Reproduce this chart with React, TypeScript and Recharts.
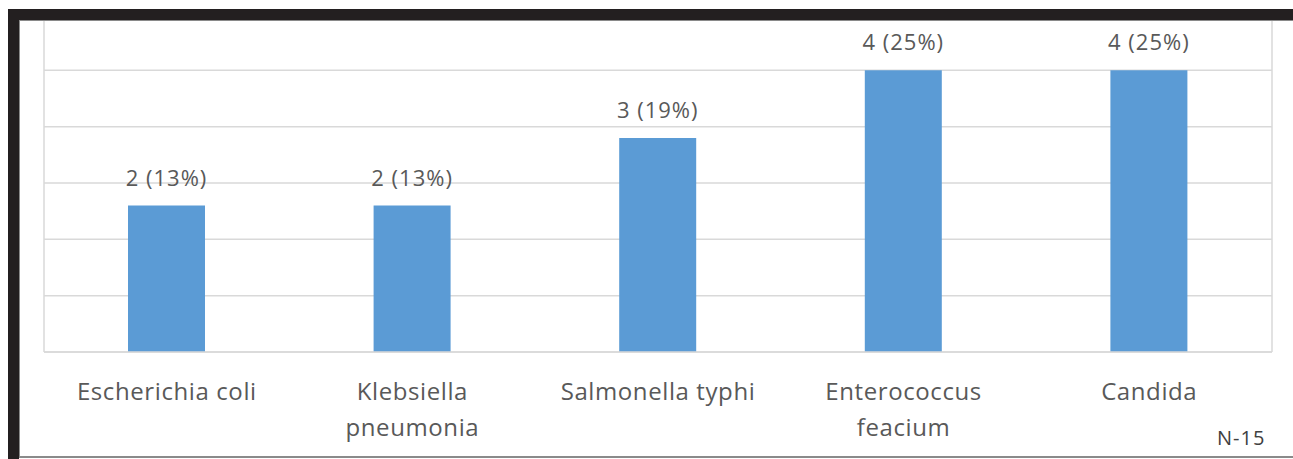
import { Bar, BarChart, CartesianGrid, LabelList, XAxis, YAxis } from 'recharts';

const organisms = [
  'Escherichia coli',
  'Klebsiella pneumonia',
  'Salmonella typhi',
  'Enterococcus feacium',
  'Candida',
];
const tickLines = [
  ['Escherichia coli'],
  ['Klebsiella', 'pneumonia'],
  ['Salmonella typhi'],
  ['Enterococcus', 'feacium'],
  ['Candida'],
];
const counts = [2, 2, 3, 4, 4];
const percents = [13, 13, 19, 25, 25];
const yTicks = [0, 5, 10, 15, 20, 25, 30];

const data = organisms.map((name, i) => ({
  name,
  pct: percents[i],
  label: `${counts[i]} (${percents[i]}%)`,
}));

const FONT = '"Open Sans", "Noto Sans", sans-serif';

function OrganismTick(props: any) {
  const { x, y, index } = props;
  const lines = tickLines[index] ?? [props.payload?.value];
  return (
    <text
      x={x}
      y={y + 40}
      textAnchor="middle"
      fontFamily={FONT}
      fontSize={24}
      letterSpacing={0.6}
      fill="#595959"
    >
      {lines.map((l, i) => (
        <tspan key={i} x={x} dy={i === 0 ? 0 : 36}>
          {l}
        </tspan>
      ))}
    </text>
  );
}

function ValueLabel(props: any) {
  const { x, y, width, value } = props;
  return (
    <text
      x={x + width / 2}
      y={y - 20}
      textAnchor="middle"
      fontFamily={FONT}
      fontSize={22}
      letterSpacing={1}
      fill="#595959"
    >
      {value}
    </text>
  );
}

export default function App() {
  return (
    <div
      style={{
        position: 'absolute',
        left: 0,
        top: 0,
        width: 1293,
        height: 459,
        background: '#fff',
        overflow: 'hidden',
      }}
    >
      <div style={{ position: 'absolute', left: 0, top: 0 }}>
        <BarChart
          width={1293}
          height={459}
          data={data}
          margin={{ top: 14, right: 21, bottom: 77, left: 44 }}
        >
          <CartesianGrid
            stroke="#d9d9d9"
            strokeWidth={1.5}
            verticalCoordinatesGenerator={({ offset }: any) => [
              offset.left,
              offset.left + offset.width,
            ]}
          />
          <YAxis hide domain={[0, 30]} ticks={yTicks} />
          <XAxis
            dataKey="name"
            height={30}
            axisLine={{ stroke: '#d9d9d9', strokeWidth: 1.5 }}
            tickLine={false}
            tick={<OrganismTick />}
            interval={0}
          />
          <Bar dataKey="pct" fill="#5b9bd5" barSize={77} isAnimationActive={false}>
            <LabelList dataKey="label" content={<ValueLabel />} />
          </Bar>
        </BarChart>
      </div>
      <div
        style={{
          position: 'absolute',
          left: 1217,
          top: 424,
          fontFamily: FONT,
          fontSize: 20,
          letterSpacing: 1,
          color: '#404040',
        }}
      >
        N-15
      </div>
      {/* frame around the figure */}
      <div style={{ position: 'absolute', left: 8, top: 9, width: 1285, height: 11, background: '#231f20' }} />
      <div style={{ position: 'absolute', left: 8, top: 9, width: 11, height: 450, background: '#231f20' }} />
      <div style={{ position: 'absolute', left: 19, top: 20, width: 1274, height: 1, background: '#8a8a8a' }} />
      <div style={{ position: 'absolute', left: 19, top: 20, width: 1, height: 437, background: '#8a8a8a' }} />
      <div style={{ position: 'absolute', left: 19, top: 456, width: 1274, height: 2, background: '#8a8a8a' }} />
    </div>
  );
}
